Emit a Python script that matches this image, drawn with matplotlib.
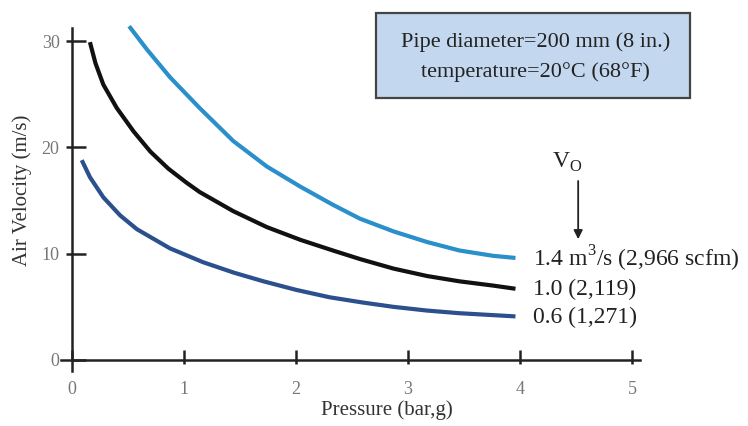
"""Air velocity vs. pressure in a 200 mm pipe for three free-air flows."""

import matplotlib.pyplot as plt
from matplotlib.patches import FancyArrowPatch, Rectangle

p_14 = [0.51, 0.67, 0.875, 1.14, 1.44, 1.74, 2.04, 2.33, 2.57, 2.87, 3.17, 3.46, 3.76, 3.96]
v_14 = [31.4, 29.2, 26.6, 23.7, 20.6, 18.2, 16.3, 14.6, 13.3, 12.1, 11.1, 10.3, 9.8, 9.6]

p_10 = [0.16, 0.21, 0.28, 0.40, 0.55, 0.70, 0.86, 1.02, 1.14, 1.44, 1.74, 2.04, 2.33,
        2.57, 2.87, 3.17, 3.46, 3.76, 3.96]
v_10 = [29.9, 27.9, 25.9, 23.7, 21.5, 19.6, 18.0, 16.7, 15.8, 14.0, 12.5, 11.3, 10.3,
        9.5, 8.6, 7.9, 7.4, 7.0, 6.7]

p_06 = [0.087, 0.16, 0.28, 0.43, 0.58, 0.875, 1.17, 1.45, 1.71, 2.0, 2.30, 2.6, 2.87,
        3.17, 3.46, 3.96]
v_06 = [18.8, 17.2, 15.3, 13.6, 12.3, 10.5, 9.2, 8.2, 7.4, 6.6, 5.9, 5.4, 5.0,
        4.65, 4.4, 4.1]

flow_labels = ["1.4 m$^3$/s (2,966 scfm)", "1.0 (2,119)", "0.6 (1,271)"]
x_ticks = [0, 1, 2, 3, 4, 5]
y_ticks = [0, 10, 20, 30]

LIGHT_BLUE = "#2b8fcb"
BLACK = "#111111"
DARK_BLUE = "#2c4f8e"
INK = "#222222"

plt.rcParams["font.family"] = ["Liberation Serif", "DejaVu Serif"]
plt.rcParams["mathtext.fontset"] = "custom"
plt.rcParams["mathtext.rm"] = "Liberation Serif"

fig = plt.figure(figsize=(7.48, 4.26), dpi=100)
ax = fig.add_axes([0.0813, 0.130, 0.774, 0.8035])

for p, v, c in [(p_14, v_14, LIGHT_BLUE), (p_10, v_10, BLACK), (p_06, v_06, DARK_BLUE)]:
    ax.plot(p, v, color=c, linewidth=3.0, solid_capstyle="butt",
            solid_joinstyle="round", clip_on=False)

ax.set_xlim(-0.1, 5.07)
ax.set_ylim(-1, 31.2)

for side in ["top", "right"]:
    ax.spines[side].set_visible(False)
ax.spines["left"].set_position(("data", 0))
ax.spines["bottom"].set_position(("data", 0))
for side in ["left", "bottom"]:
    ax.spines[side].set_linewidth(1.8)
    ax.spines[side].set_color(INK)

ax.set_xticks(x_ticks)
ax.set_yticks(y_ticks)
ax.set_xticklabels([str(t) for t in x_ticks])
ax.set_yticklabels([str(t) for t in y_ticks])
# short outward stubs as minor ticks, longer inward marks as major ticks
ax.xaxis.remove_overlapping_locs = False
ax.yaxis.remove_overlapping_locs = False
ax.set_xticks(x_ticks[1:], minor=True)
ax.set_yticks(y_ticks[1:], minor=True)
ax.tick_params(axis="x", which="major", direction="in", length=7, width=1.8, color=INK,
               labelsize=13, labelcolor="#777777", pad=15)
ax.tick_params(axis="y", which="major", direction="in", length=10, width=1.8, color=INK,
               labelsize=13, labelcolor="#777777", pad=9)
ax.tick_params(axis="x", which="minor", direction="out", length=3, width=1.8, color=INK)
ax.tick_params(axis="y", which="minor", direction="out", length=4, width=1.8, color=INK)

fig.text(0.517, 0.038, "Pressure (bar,g)", ha="center", va="center",
         fontsize=15, color="#333333")
fig.text(0.03, 0.554, "Air Velocity (m/s)", ha="center", va="center",
         rotation=90, fontsize=15, color="#333333")

# info box
fig.patches.append(Rectangle((0.5027, 0.770), 0.4198, 0.1995, transform=fig.transFigure,
                             facecolor="#c3d7ee", edgecolor="#444444", linewidth=1.6))
fig.text(0.716, 0.9014, "Pipe diameter=200 mm (8 in.)", ha="center", va="center",
         fontsize=16, color=INK)
fig.text(0.716, 0.831, "temperature=20°C (68°F)", ha="center", va="center",
         fontsize=16, color=INK)

# curve labels
ends = [(p_14[-1], v_14[-1]), (p_10[-1], v_10[-1]), (p_06[-1], v_06[-1])]
for (x_end, y_end), lab in zip(ends, flow_labels):
    ax.text(x_end + 0.16, y_end - 0.1, lab, ha="left", va="center",
            fontsize=17, color=INK)

ax.text(4.42, 18.6, "V$_\\mathregular{O}$", ha="center", va="center",
        fontsize=17, color=INK)
ax.add_patch(FancyArrowPatch((4.52, 17.1), (4.52, 11.1), arrowstyle="-|>",
                             mutation_scale=13, color=INK, linewidth=1.3))

fig.savefig("out.png", dpi=100)
